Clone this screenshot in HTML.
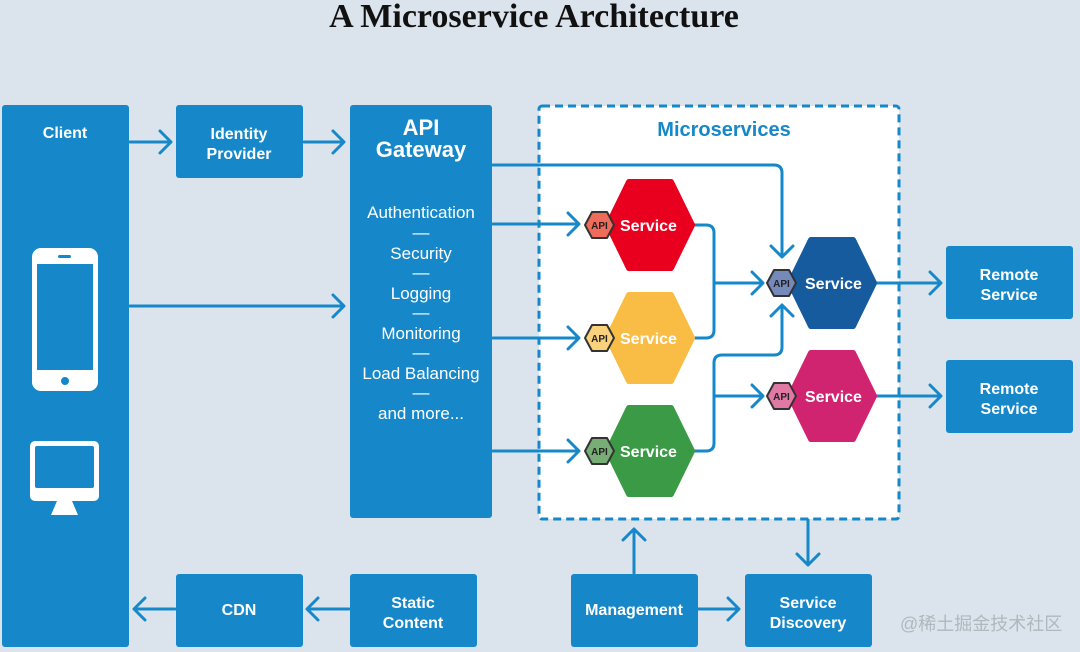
<!DOCTYPE html>
<html><head><meta charset="utf-8"><style>
html,body{margin:0;padding:0;background:#dbe4ec;}
svg{display:block}
text{font-family:"Liberation Sans","Noto Sans CJK SC",sans-serif;}
</style></head><body>
<svg width="1080" height="652" viewBox="0 0 1080 652" xmlns="http://www.w3.org/2000/svg">
<rect width="1080" height="652" fill="#dbe4ec"/>
<text x="534" y="27" text-anchor="middle" style="font-family:'Liberation Serif',serif;font-weight:bold;font-size:34px" fill="#111">A Microservice Architecture</text>

<g fill="#1688c9">
<rect x="2" y="105" width="127" height="542" rx="3"/>
<rect x="176" y="105" width="127" height="73" rx="3"/>
<rect x="350" y="105" width="142" height="413" rx="3"/>
<rect x="946" y="246" width="127" height="73" rx="3"/>
<rect x="946" y="360" width="127" height="73" rx="3"/>
<rect x="176" y="574" width="127" height="73" rx="3"/>
<rect x="350" y="574" width="127" height="73" rx="3"/>
<rect x="571" y="574" width="127" height="73" rx="3"/>
<rect x="745" y="574" width="127" height="73" rx="3"/>
</g>
<rect x="539" y="106" width="360" height="413" fill="#fff" stroke="#1688c9" stroke-width="3" stroke-dasharray="8,5" rx="3"/>

<!-- phone -->
<rect x="32" y="248" width="66" height="143" rx="9" fill="#fff"/>
<rect x="37" y="264" width="56" height="106" fill="#1688c9"/>
<rect x="58" y="255" width="13" height="3" rx="1.5" fill="#1688c9"/>
<circle cx="65" cy="381" r="4" fill="#1688c9"/>
<!-- monitor -->
<rect x="30" y="441" width="69" height="60" rx="5" fill="#fff"/>
<rect x="35" y="446" width="59" height="42" rx="2" fill="#1688c9"/>
<polygon points="57,501 72,501 78,515 51,515" fill="#fff"/>

<g fill="#fff" font-weight="bold" text-anchor="middle" font-size="16">
<text x="65" y="138">Client</text>
<text x="239" y="139">Identity</text>
<text x="239" y="159">Provider</text>
<text x="421" y="135" font-size="22">API</text>
<text x="421" y="157" font-size="22">Gateway</text>
<text x="1009" y="280">Remote</text>
<text x="1009" y="300">Service</text>
<text x="1009" y="394">Remote</text>
<text x="1009" y="414">Service</text>
<text x="239" y="615">CDN</text>
<text x="413" y="608">Static</text>
<text x="413" y="628">Content</text>
<text x="634" y="615">Management</text>
<text x="808" y="608">Service</text>
<text x="808" y="628">Discovery</text>
</g>
<g fill="#fff" text-anchor="middle" font-size="17">
<text x="421" y="218">Authentication</text>
<text x="421" y="238">—</text>
<text x="421" y="259">Security</text>
<text x="421" y="278">—</text>
<text x="421" y="299">Logging</text>
<text x="421" y="318">—</text>
<text x="421" y="339">Monitoring</text>
<text x="421" y="358">—</text>
<text x="421" y="379">Load Balancing</text>
<text x="421" y="398">—</text>
<text x="421" y="419">and more...</text>
</g>
<text x="724" y="136" text-anchor="middle" font-size="20" font-weight="bold" fill="#1688c9">Microservices</text>

<g fill="none" stroke="#1688c9" stroke-width="3" stroke-linecap="round" stroke-linejoin="round">
<path d="M130 142H170M160 131l11 11-11 11"/>
<path d="M304 142H343M333 131l11 11-11 11"/>
<path d="M130 306H343M333 295l11 11-11 11"/>
<path d="M493 165H774q8 0 8 8V256M771 246l11 11 11-11"/>
<path d="M493 224H578M568 213l11 11-11 11"/>
<path d="M493 338H578M568 327l11 11-11 11"/>
<path d="M493 451H578M568 440l11 11-11 11"/>
<path d="M692 225H706q8 0 8 8V330q0 8-8 8H692"/>
<path d="M714 283H762M752 272l11 11-11 11"/>
<path d="M692 451H706q8 0 8-8V363q0-8 8-8H774q8 0 8-8V305M771 316l11-11 11 11"/>
<path d="M714 396H762M752 385l11 11-11 11"/>
<path d="M876 283H940M930 272l11 11-11 11"/>
<path d="M876 396H940M930 385l11 11-11 11"/>
<path d="M634 573V529M623 540l11-11 11 11"/>
<path d="M808 520V565M797 554l11 11 11-11"/>
<path d="M698 609H738M728 598l11 11-11 11"/>
<path d="M349 609H308M318 598l-11 11 11 11"/>
<path d="M175 609H135M145 598l-11 11 11 11"/>
</g>

<g stroke-linejoin="round" stroke-width="6">
<polygon points="608,225 629,182 671,182 692,225 671,268 629,268" fill="#e9001f" stroke="#e9001f"/>
<polygon points="608,338 629,295 671,295 692,338 671,381 629,381" fill="#f9bd45" stroke="#f9bd45"/>
<polygon points="608,451 629,408 671,408 692,451 671,494 629,494" fill="#3a9a45" stroke="#3a9a45"/>
<polygon points="790,283 811,240 853,240 874,283 853,326 811,326" fill="#165b9e" stroke="#165b9e"/>
<polygon points="790,396 811,353 853,353 874,396 853,439 811,439" fill="#d12470" stroke="#d12470"/>
</g>
<g stroke="#333" stroke-width="2" stroke-linejoin="round">
<polygon points="585,225 592,212 607,212 614,225 607,238 592,238" fill="#ef6b5a"/>
<polygon points="585,338 592,325 607,325 614,338 607,351 592,351" fill="#fbd27c"/>
<polygon points="585,451 592,438 607,438 614,451 607,464 592,464" fill="#78ad76"/>
<polygon points="767,283 774,270 789,270 796,283 789,296 774,296" fill="#7689bb"/>
<polygon points="767,396 774,383 789,383 796,396 789,409 774,409" fill="#e07aa5"/>
</g>
<g font-size="10" font-weight="bold" fill="#222" text-anchor="middle">
<text x="599.5" y="229">API</text>
<text x="599.5" y="342">API</text>
<text x="599.5" y="455">API</text>
<text x="781.5" y="287">API</text>
<text x="781.5" y="400">API</text>
</g>
<g font-size="16" font-weight="bold" fill="#fff">
<text x="620" y="231">Service</text>
<text x="620" y="344">Service</text>
<text x="620" y="457">Service</text>
<text x="805" y="289">Service</text>
<text x="805" y="402">Service</text>
</g>
<text x="900" y="630" font-size="18" fill="#b0b7bd">@稀土掘金技术社区</text>
</svg>
</body></html>
